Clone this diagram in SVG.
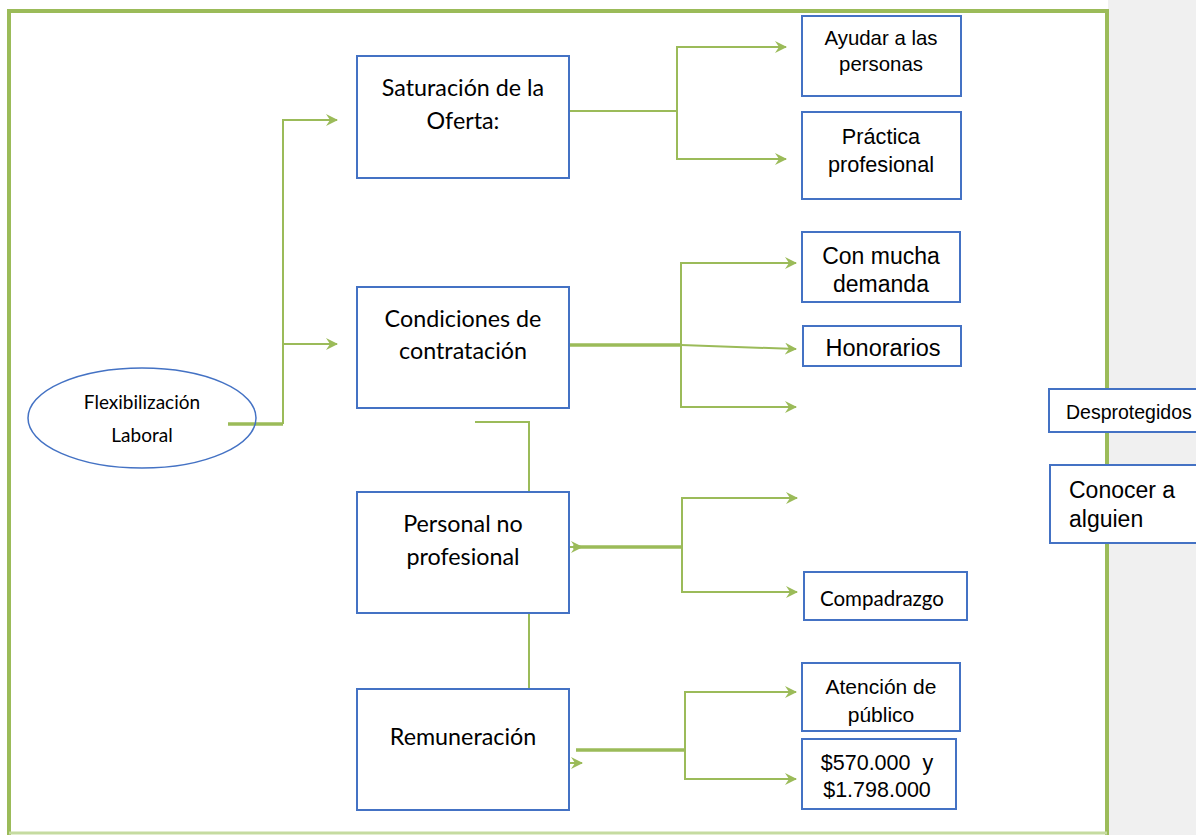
<svg xmlns="http://www.w3.org/2000/svg" width="1196" height="835" viewBox="0 0 1196 835">
<defs>
<marker id="ah" viewBox="0 0 12 12" refX="11" refY="6" markerWidth="12" markerHeight="12" markerUnits="userSpaceOnUse" orient="auto">
<path d="M0,0 L12,6 L0,12 L4,6 Z" fill="#9BBB59"/>
</marker>
<style>
.box{fill:#fff;stroke:#4472C4;stroke-width:2}
.ln{fill:none;stroke:#9BBB59;stroke-width:2}
.thk{fill:none;stroke:#9BBB59;stroke-width:3.5}
.c{font-family:Lato,"Liberation Sans",sans-serif;fill:#000;text-anchor:middle}
.a{font-family:"Liberation Sans",Arial,sans-serif;fill:#000;text-anchor:middle}
.s{text-anchor:start}
</style>
</defs>
<rect x="0" y="0" width="1196" height="835" fill="#fff"/>
<rect x="1108" y="0" width="88" height="835" fill="#F0F0F0"/>
<rect x="9" y="11" width="1098" height="830" fill="#fff" stroke="#9BBB59" stroke-width="4"/>
<line x1="9" y1="833" x2="1107" y2="833" stroke="#C5DBA0" stroke-width="3"/>

<g id="connectors">
<polyline class="thk" points="228,424 283,424"/>
<polyline class="ln" points="283,424 283,120 337,120" marker-end="url(#ah)"/>
<polyline class="ln" points="283,344 337,344" marker-end="url(#ah)"/>
<polyline class="ln" points="569,111 677,111"/>
<polyline class="ln" points="677,111 677,47 786,47" marker-end="url(#ah)"/>
<polyline class="ln" points="677,111 677,159 786,159" marker-end="url(#ah)"/>
<polyline class="thk" points="569,345 681,345"/>
<polyline class="ln" points="681,345 796,349" marker-end="url(#ah)"/>
<polyline class="ln" points="681,345 681,263 796,263" marker-end="url(#ah)"/>
<polyline class="ln" points="681,345 681,407 796,407" marker-end="url(#ah)"/>
<polyline class="ln" points="475,422 529,422 529,492"/>
<polyline class="ln" points="529,613 529,688"/>
<polyline class="thk" points="573,547 682,547"/>
<polyline class="ln" points="568,547 582,547" marker-end="url(#ah)"/>
<polyline class="ln" points="682,547 682,498 797,498" marker-end="url(#ah)"/>
<polyline class="ln" points="682,547 682,592 797,592" marker-end="url(#ah)"/>
<polyline class="thk" points="576,750 685,750"/>
<polyline class="ln" points="568,763 582,763" marker-end="url(#ah)"/>
<polyline class="ln" points="685,750 685,692 796,692" marker-end="url(#ah)"/>
<polyline class="ln" points="685,750 685,779 796,779" marker-end="url(#ah)"/>
</g>

<g id="flex">
<ellipse cx="142" cy="418" rx="114" ry="50" fill="none" stroke="#4472C4" stroke-width="1.5"/>
<text class="c" x="142" y="409" font-size="19">Flexibilización</text>
<text class="c" x="142" y="442" font-size="19">Laboral</text>
</g>

<g id="saturacion">
<rect class="box" x="357" y="56" width="212" height="122"/>
<text class="c" x="463" y="96" font-size="23.3">Saturación de la</text>
<text class="c" x="463" y="129" font-size="23.3">Oferta:</text>
</g>
<g id="condiciones">
<rect class="box" x="357" y="287" width="212" height="121"/>
<text class="c" x="463" y="327" font-size="23.3">Condiciones de</text>
<text class="c" x="463" y="359" font-size="23.3">contratación</text>
</g>
<g id="personal">
<rect class="box" x="357" y="492" width="212" height="121"/>
<text class="c" x="463" y="532" font-size="23.3">Personal no</text>
<text class="c" x="463" y="565" font-size="23.3">profesional</text>
</g>
<g id="remuneracion">
<rect class="box" x="357" y="689" width="212" height="121"/>
<text class="c" x="463" y="745" font-size="23.3">Remuneración</text>
</g>

<g id="ayudar">
<rect class="box" x="802" y="16" width="159" height="80"/>
<text class="a" x="881" y="45" font-size="20.4">Ayudar a las</text>
<text class="a" x="881" y="71" font-size="20.4">personas</text>
</g>
<g id="practica">
<rect class="box" x="802" y="112" width="159" height="87"/>
<text class="a" x="881" y="144" font-size="21.7">Práctica</text>
<text class="a" x="881" y="172" font-size="21.7">profesional</text>
</g>
<g id="conmucha">
<rect class="box" x="802" y="232" width="158" height="70"/>
<text class="a" x="881" y="264" font-size="23">Con mucha</text>
<text class="a" x="881" y="292" font-size="23">demanda</text>
</g>
<g id="honorarios">
<rect class="box" x="803" y="326" width="158" height="40"/>
<text class="a" x="883" y="356" font-size="23.5">Honorarios</text>
</g>
<g id="desprotegidos">
<rect class="box" x="1049" y="389" width="160" height="43"/>
<text class="a s" x="1066" y="419" font-size="19.5">Desprotegidos</text>
</g>
<g id="conocer">
<rect class="box" x="1050" y="465" width="160" height="78"/>
<text class="a s" x="1069" y="498" font-size="23">Conocer a</text>
<text class="a s" x="1069" y="527" font-size="23">alguien</text>
</g>
<g id="compadrazgo">
<rect class="box" x="804" y="572" width="163" height="48"/>
<text class="c" x="882" y="606" font-size="20.5">Compadrazgo</text>
</g>
<g id="atencion">
<rect class="box" x="802" y="663" width="158" height="68"/>
<text class="a" x="881" y="694" font-size="21">Atención de</text>
<text class="a" x="881" y="722" font-size="21">público</text>
</g>
<g id="monto">
<rect class="box" x="802" y="739" width="154" height="70"/>
<text class="a" x="877" y="770" font-size="21.5" xml:space="preserve">$570.000  y</text>
<text class="a" x="877" y="797" font-size="21.5">$1.798.000</text>
</g>
</svg>
